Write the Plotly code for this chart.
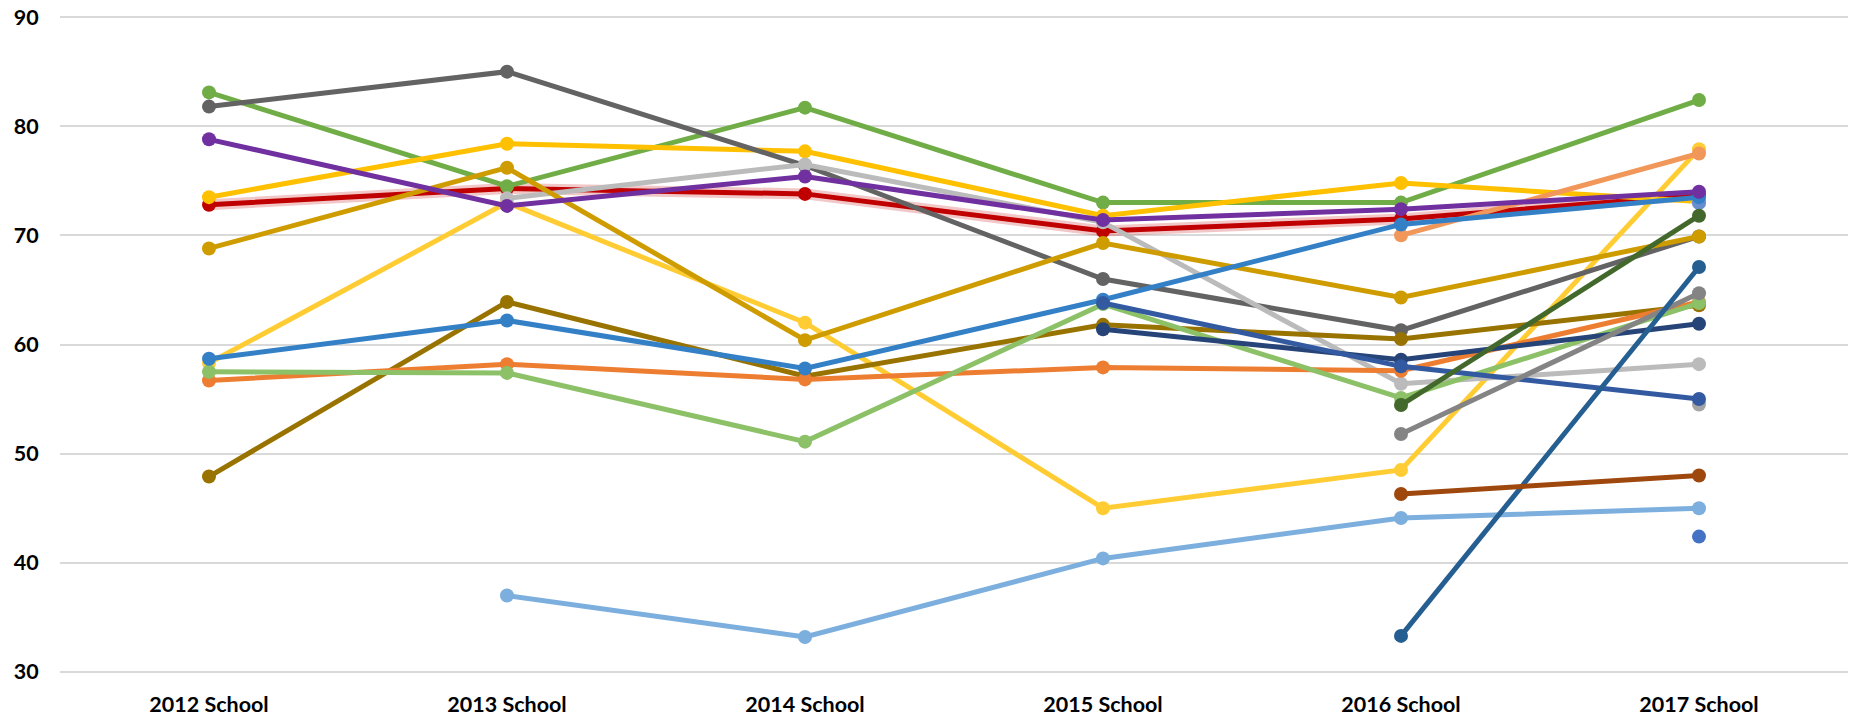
import plotly.graph_objects as go

categories = ["2012 School", "2013 School", "2014 School", "2015 School", "2016 School", "2017 School"]
y_ticks = [30, 40, 50, 60, 70, 80, 90]

# series values (None = no value for that year)
red_series = [72.8, 74.3, 73.8, 70.4, 71.5, 73.7]
green_series = [83.1, 74.5, 81.7, 73.0, 73.0, 82.4]
gold_series = [73.5, 78.4, 77.7, 71.8, 74.8, 73.1]
yellow_series = [58.3, 73.0, 62.0, 45.0, 48.5, 77.9]
darkgray_series = [81.8, 85.0, 76.4, 66.0, 61.3, 69.9]
lightgray_series = [None, 73.4, 76.5, 71.2, 56.4, 58.2]
darkgold_series = [68.8, 76.2, 60.4, 69.3, 64.3, 69.9]
olive_series = [47.9, 63.9, 57.1, 61.8, 60.5, 63.6]
orange_series = [56.7, 58.2, 56.8, 57.9, 57.6, 63.9]
lightgreen_series = [57.5, 57.4, 51.1, 63.7, 55.1, 63.8]
lightblue_series = [None, 37.0, 33.2, 40.4, 44.1, 45.0]
purple_series = [78.8, 72.7, 75.4, 71.4, 72.4, 74.0]
salmon_series = [None, None, None, None, 70.0, 77.5]
blue_series = [58.7, 62.2, 57.8, 64.1, 71.0, 73.5]
navy_series = [None, None, None, 61.4, 58.6, 61.9]
medblue_series = [None, None, None, 63.8, 58.0, 55.0]
darkgreen_series = [None, None, None, None, 54.45, 71.8]
gray_series = [None, None, None, None, 51.8, 64.7]
steelblue_series = [None, None, None, None, 33.3, 67.1]
brown_series = [None, None, None, None, 46.3, 48.0]
single_blue = [None, None, None, None, None, 42.4]
single_lightblue = [None, None, None, None, None, 72.95]
single_gray = [None, None, None, None, None, 54.5]

series = [
    ("Series A", red_series, "#C00000"),
    ("Series B", green_series, "#70AD47"),
    ("Series C", gold_series, "#FFC000"),
    ("Series D", yellow_series, "#FFCD33"),
    ("Series E", darkgray_series, "#636363"),
    ("Series F", lightgray_series, "#BBBBBB"),
    ("Series G", darkgold_series, "#CF9C00"),
    ("Series H", olive_series, "#997300"),
    ("Series I", orange_series, "#ED7D31"),
    ("Series J", lightgreen_series, "#8CC168"),
    ("Series K", lightblue_series, "#7CAFDD"),
    ("Series L", single_gray, "#A5A5A5"),
    ("Series M", single_lightblue, "#698ED0"),
    ("Series N", salmon_series, "#F1975A"),
    ("Series O", blue_series, "#3380C6"),
    ("Series P", purple_series, "#7030A0"),
    ("Series Q", navy_series, "#264478"),
    ("Series R", medblue_series, "#335AA1"),
    ("Series S", darkgreen_series, "#43682B"),
    ("Series T", gray_series, "#848484"),
    ("Series U", steelblue_series, "#255E91"),
    ("Series V", brown_series, "#9E480E"),
    ("Series W", single_blue, "#4472C4"),
]

fig = go.Figure()

# soft glow under the red series
fig.add_trace(go.Scatter(
    x=categories, y=red_series, mode="lines",
    line=dict(color="rgba(192,0,0,0.22)", width=11),
    hoverinfo="skip", showlegend=False,
))

for name, vals, color in series:
    fig.add_trace(go.Scatter(
        x=categories, y=vals, name=name, mode="lines+markers",
        line=dict(color=color, width=5),
        marker=dict(color=color, size=14),
        connectgaps=False, showlegend=False,
    ))

tick_font = dict(family="Lato, sans-serif", size=21.5, color="#000000", weight="bold")

fig.update_layout(
    width=1863, height=716,
    margin=dict(l=60, r=15, t=16, b=43, autoexpand=False),
    paper_bgcolor="white", plot_bgcolor="white",
    showlegend=False,
    font=dict(family="Lato, sans-serif", size=21.5, color="#000000"),
)
fig.update_xaxes(
    type="category", categoryorder="array", categoryarray=categories,
    range=[-0.5, 5.5], showgrid=False, zeroline=False, showline=False,
    ticks="outside", ticklen=12, tickcolor="rgba(0,0,0,0)",
    tickfont=tick_font, automargin=False, ticklabeloverflow="allow",
)
fig.update_yaxes(
    range=[29.9, 90.1], tickvals=y_ticks, ticktext=[str(v) for v in y_ticks],
    showgrid=True, gridcolor="#D9D9D9", gridwidth=2, zeroline=False, showline=False,
    ticks="outside", ticklen=16, tickcolor="rgba(0,0,0,0)",
    tickfont=tick_font, automargin=False, ticklabeloverflow="allow",
)

fig.write_html(
    "out.html",
    config={"displayModeBar": False},
    post_script="document.body.style.margin='0';document.body.style.overflow='hidden';",
)
